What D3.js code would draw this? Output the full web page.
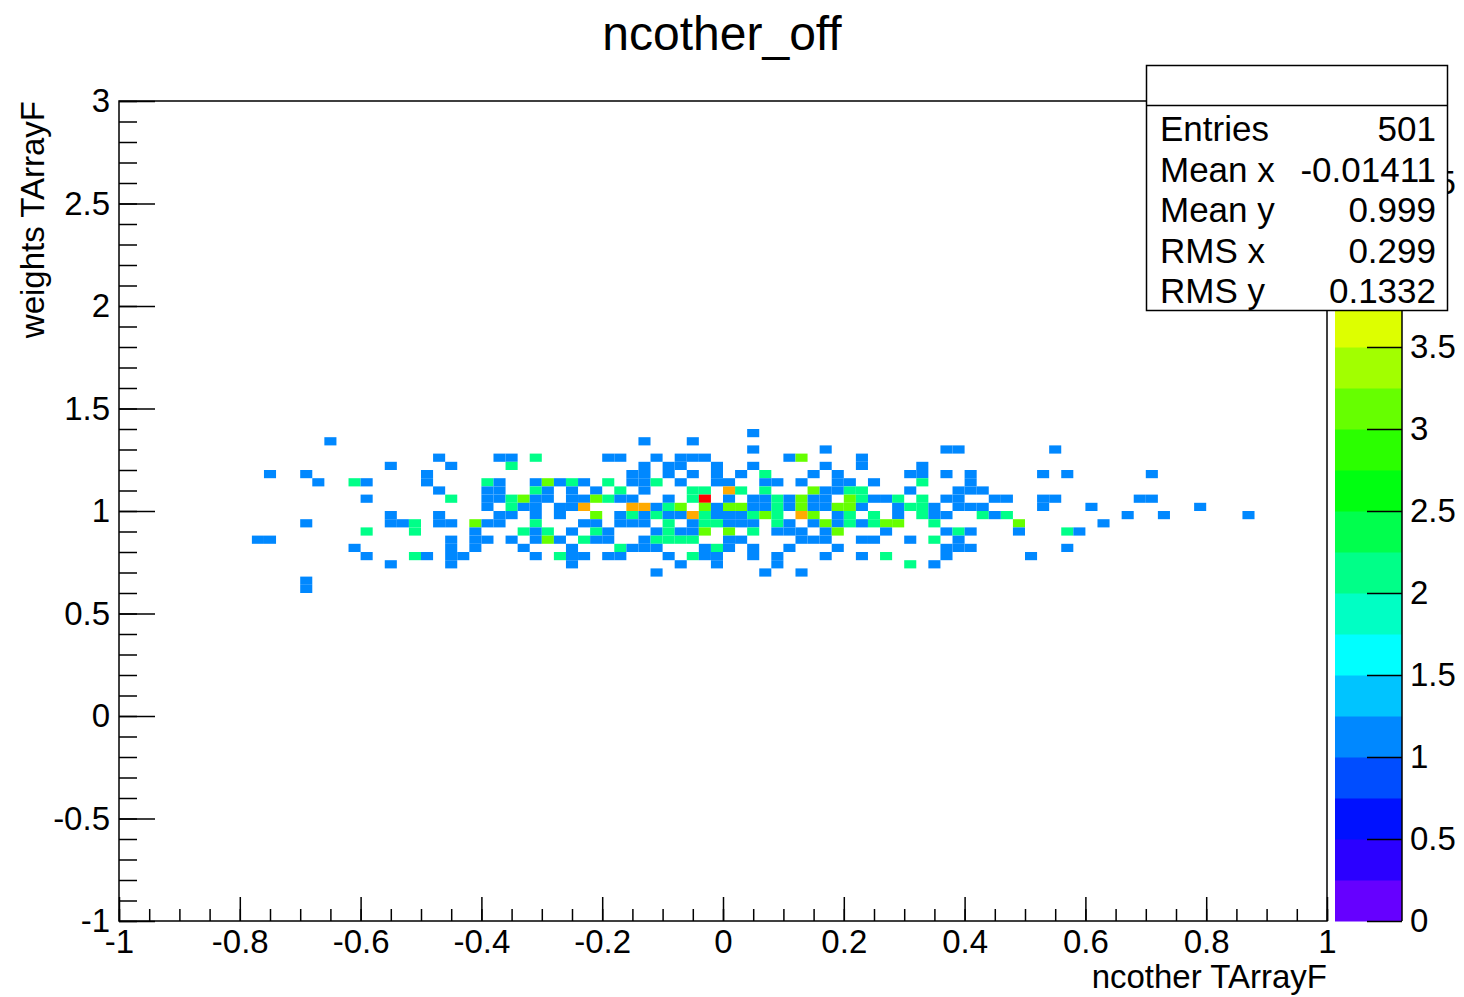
<!DOCTYPE html>
<html>
<head>
<meta charset="utf-8">
<script src="https://cdn.jsdelivr.net/npm/d3@7"></script>
<style>
  body { margin: 0; background: #fff; }
  text { font-family: "Liberation Sans", Arial, Helvetica, sans-serif; }
</style>
</head>
<body>
<div id="chart"></div>
<script>
// y bin centres of every filled row, and for each row the x bin centres + counts
const rowY = [1.38, 1.34, 1.30, 1.26, 1.22, 1.18, 1.14, 1.10, 1.06, 1.02,
              0.98, 0.94, 0.90, 0.86, 0.82, 0.78, 0.74, 0.70, 0.66, 0.62];
const rowX = [
  [0.05],
  [-0.65, -0.13, -0.05],
  [0.05, 0.17, 0.37, 0.39, 0.55],
  [-0.47, -0.37, -0.35, -0.31, -0.19, -0.17, -0.11, -0.07, -0.05, -0.03, 0.11, 0.13, 0.23],
  [-0.55, -0.45, -0.35, -0.13, -0.09, -0.07, -0.01, 0.05, 0.17, 0.23, 0.33],
  [-0.75, -0.69, -0.49, -0.15, -0.13, -0.09, -0.05, -0.01, 0.03, 0.07, 0.15, 0.19, 0.31, 0.33, 0.37, 0.41, 0.53, 0.57, 0.71],
  [-0.67, -0.61, -0.59, -0.49, -0.39, -0.37, -0.31, -0.29, -0.27, -0.25, -0.23, -0.19, -0.15, -0.13, -0.11, -0.07, -0.01, 0.01, 0.07, 0.09, 0.13, 0.19, 0.21, 0.25, 0.33, 0.41],
  [-0.47, -0.39, -0.37, -0.31, -0.29, -0.25, -0.21, -0.17, -0.13, -0.05, -0.03, 0.01, 0.03, 0.07, 0.15, 0.17, 0.19, 0.21, 0.23, 0.31, 0.39, 0.41, 0.43],
  [-0.59, -0.45, -0.39, -0.37, -0.35, -0.33, -0.31, -0.29, -0.25, -0.23, -0.21, -0.19, -0.17, -0.15, -0.09, -0.05, -0.03, 0.01, 0.05, 0.07, 0.09, 0.11, 0.13, 0.15, 0.17, 0.21, 0.23, 0.25, 0.27, 0.29, 0.33, 0.37, 0.39, 0.45, 0.47, 0.53, 0.55, 0.69, 0.71],
  [-0.39, -0.35, -0.33, -0.31, -0.27, -0.25, -0.23, -0.15, -0.13, -0.11, -0.09, -0.07, -0.03, -0.01, 0.01, 0.03, 0.05, 0.07, 0.09, 0.11, 0.13, 0.15, 0.17, 0.19, 0.21, 0.23, 0.29, 0.31, 0.33, 0.35, 0.39, 0.41, 0.43, 0.53, 0.61, 0.79],
  [-0.55, -0.47, -0.37, -0.35, -0.31, -0.27, -0.21, -0.17, -0.15, -0.13, -0.11, -0.09, -0.07, -0.05, -0.03, -0.01, 0.01, 0.03, 0.05, 0.07, 0.09, 0.13, 0.15, 0.19, 0.21, 0.25, 0.29, 0.33, 0.35, 0.37, 0.43, 0.45, 0.47, 0.67, 0.73, 0.87],
  [-0.69, -0.55, -0.53, -0.51, -0.47, -0.45, -0.41, -0.39, -0.37, -0.31, -0.23, -0.21, -0.17, -0.15, -0.13, -0.09, -0.05, -0.03, -0.01, 0.01, 0.03, 0.05, 0.09, 0.11, 0.15, 0.17, 0.19, 0.21, 0.23, 0.25, 0.27, 0.29, 0.35, 0.49, 0.63],
  [-0.59, -0.51, -0.41, -0.33, -0.31, -0.29, -0.25, -0.21, -0.19, -0.11, -0.09, -0.07, -0.05, -0.03, 0.01, 0.05, 0.09, 0.11, 0.13, 0.17, 0.19, 0.27, 0.37, 0.39, 0.41, 0.49, 0.57, 0.59],
  [-0.77, -0.75, -0.45, -0.41, -0.39, -0.35, -0.31, -0.29, -0.27, -0.23, -0.21, -0.19, -0.13, -0.11, -0.09, -0.07, -0.05, 0.01, 0.03, 0.13, 0.15, 0.17, 0.23, 0.25, 0.31, 0.35, 0.39],
  [-0.61, -0.45, -0.41, -0.33, -0.25, -0.17, -0.15, -0.13, -0.11, -0.03, -0.01, 0.01, 0.05, 0.11, 0.19, 0.37, 0.39, 0.41, 0.57],
  [-0.59, -0.51, -0.49, -0.45, -0.43, -0.31, -0.27, -0.25, -0.23, -0.19, -0.17, -0.09, -0.05, -0.03, -0.01, 0.05, 0.09, 0.17, 0.23, 0.27, 0.37, 0.51],
  [-0.55, -0.45, -0.25, -0.07, -0.01, 0.09, 0.31, 0.35],
  [-0.11, 0.07, 0.13],
  [-0.69],
  [-0.69]
];
const rowN = [
  [1],
  [1, 1, 1],
  [1, 1, 1, 1, 1],
  [1, 1, 1, 2, 1, 1, 1, 1, 1, 1, 1, 3, 1],
  [1, 1, 2, 1, 1, 1, 1, 1, 1, 1, 1],
  [1, 1, 1, 1, 1, 1, 1, 1, 1, 2, 1, 1, 1, 1, 1, 1, 1, 1, 1],
  [1, 2, 1, 1, 2, 1, 1, 3, 1, 2, 1, 2, 1, 1, 2, 1, 1, 1, 1, 1, 1, 1, 1, 1, 2, 1],
  [1, 1, 1, 2, 1, 1, 1, 2, 1, 2, 2, 4, 2, 2, 3, 1, 1, 2, 2, 1, 1, 1, 1],
  [1, 2, 1, 1, 2, 3, 1, 1, 1, 1, 3, 2, 1, 1, 1, 2, 5, 1, 1, 1, 2, 1, 3, 1, 1, 3, 2, 1, 1, 2, 2, 1, 1, 1, 1, 1, 1, 1, 1],
  [1, 2, 1, 1, 1, 1, 4, 4, 4, 1, 2, 3, 3, 1, 3, 3, 1, 1, 2, 1, 3, 1, 1, 3, 3, 1, 1, 2, 2, 1, 1, 1, 1, 1, 1, 1],
  [1, 1, 1, 1, 1, 1, 3, 1, 2, 1, 2, 1, 1, 4, 2, 1, 1, 1, 2, 3, 2, 4, 3, 1, 2, 2, 1, 2, 1, 1, 2, 1, 2, 1, 1, 1],
  [1, 1, 1, 2, 1, 1, 3, 1, 1, 2, 1, 1, 1, 1, 1, 2, 1, 2, 2, 1, 1, 1, 2, 1, 1, 3, 1, 2, 1, 2, 3, 3, 2, 3, 1],
  [2, 2, 1, 2, 1, 2, 1, 2, 1, 1, 2, 1, 1, 3, 3, 2, 1, 1, 1, 1, 3, 1, 1, 2, 1, 1, 2, 1],
  [1, 1, 1, 1, 1, 1, 1, 3, 1, 2, 1, 1, 1, 2, 2, 2, 2, 1, 1, 1, 1, 1, 1, 1, 1, 2, 1],
  [1, 1, 1, 1, 1, 2, 1, 1, 1, 1, 2, 1, 1, 1, 1, 1, 1, 1, 1],
  [1, 2, 1, 1, 1, 1, 2, 1, 1, 1, 1, 1, 2, 1, 1, 1, 1, 1, 1, 2, 1, 1],
  [1, 1, 1, 1, 1, 1, 2, 1],
  [1, 1, 1],
  [1],
  [1]
];

const xTicks = [-1, -0.8, -0.6, -0.4, -0.2, 0, 0.2, 0.4, 0.6, 0.8, 1];
const yTicks = [-1, -0.5, 0, 0.5, 1, 1.5, 2, 2.5, 3];
const zTicks = [0, 0.5, 1, 1.5, 2, 2.5, 3, 3.5, 4, 4.5, 5];
const statLabels = ["Entries", "Mean x", "Mean y", "RMS x", "RMS y"];
const statValues = ["501", "-0.01411", "0.999", "0.299", "0.1332"];

const binW = 0.02, binH = 0.04;
const zMax = 5, nContours = 20;

const W = 1464, H = 997;
const svg = d3.select("#chart").append("svg")
  .attr("width", W).attr("height", H)
  .style("background", "#fff");

const x = d3.scaleLinear().domain([-1, 1]).range([119, 1327]);
const y = d3.scaleLinear().domain([-1, 3]).range([921, 101]);
const z = d3.scaleLinear().domain([0, zMax]).range([921, 101]);

// ROOT style rainbow palette, 20 contour levels
const levelColor = i => d3.hsl(Math.max(0, 264 - 14 * i), 1, 0.5).formatHex();
const colorOf = v => levelColor(Math.min(nContours - 1, Math.floor(v / (zMax / nContours))));

// cells
const cells = [];
rowY.forEach((yc, r) => rowX[r].forEach((xc, k) => cells.push({ x: xc, y: yc, n: rowN[r][k] })));

svg.append("g").selectAll("rect")
  .data(cells)
  .enter()
  .append("rect")
  .attr("x", d => x(d.x - binW / 2))
  .attr("y", d => y(d.y + binH / 2))
  .attr("width", d => x(d.x + binW / 2) - x(d.x - binW / 2))
  .attr("height", d => y(d.y - binH / 2) - y(d.y + binH / 2))
  .attr("fill", d => colorOf(d.n));

// axes, ticks point inward like ROOT
const fmt = d => String(d);
const styleAxis = g => {
  g.select(".domain").remove();
  g.selectAll("line").attr("stroke", "#000").attr("stroke-width", 1.5);
  g.selectAll("text").attr("font-size", 33).attr("fill", "#000")
    .attr("font-family", "Liberation Sans, Arial, sans-serif");
};

svg.append("g")
  .attr("transform", "translate(0,921)")
  .call(d3.axisBottom(x).tickValues(d3.range(-1, 1.0001, 0.05)).tickSizeInner(-12).tickSizeOuter(0).tickFormat(""))
  .call(styleAxis);
svg.append("g")
  .attr("transform", "translate(0,921)")
  .call(d3.axisBottom(x).tickValues(xTicks).tickSizeInner(-24).tickSizeOuter(0).tickPadding(9).tickFormat(fmt))
  .call(styleAxis);

svg.append("g")
  .attr("transform", "translate(119,0)")
  .call(d3.axisLeft(y).tickValues(d3.range(-1, 3.0001, 0.1)).tickSizeInner(-18).tickSizeOuter(0).tickFormat(""))
  .call(styleAxis);
svg.append("g")
  .attr("transform", "translate(119,0)")
  .call(d3.axisLeft(y).tickValues(yTicks).tickSizeInner(-36).tickSizeOuter(0).tickPadding(9).tickFormat(fmt))
  .call(styleAxis);

// frame
svg.append("rect")
  .attr("x", 119).attr("y", 101).attr("width", 1327 - 119).attr("height", 921 - 101)
  .attr("fill", "none").attr("stroke", "#000").attr("stroke-width", 1.5);

// palette
svg.append("g").selectAll("rect")
  .data(d3.range(nContours))
  .enter()
  .append("rect")
  .attr("x", 1335)
  .attr("y", i => z((i + 1) * zMax / nContours))
  .attr("width", 1402 - 1335)
  .attr("height", i => z(i * zMax / nContours) - z((i + 1) * zMax / nContours) + 0.5)
  .attr("fill", i => levelColor(i));

svg.append("g")
  .attr("transform", "translate(1402,0)")
  .call(d3.axisRight(z).tickValues(zTicks).tickSizeInner(-35).tickSizeOuter(0).tickPadding(8).tickFormat(fmt))
  .call(styleAxis);
svg.append("line")
  .attr("x1", 1402).attr("x2", 1402).attr("y1", 101).attr("y2", 921)
  .attr("stroke", "#000").attr("stroke-width", 1.5);

// titles
svg.append("text")
  .attr("x", 722).attr("y", 50)
  .attr("text-anchor", "middle")
  .attr("font-size", 48)
  .text("ncother_off");

svg.append("text")
  .attr("x", 1327).attr("y", 988)
  .attr("text-anchor", "end")
  .attr("font-size", 33)
  .text("ncother TArrayF");

svg.append("text")
  .attr("transform", "translate(44,101) rotate(-90)")
  .attr("text-anchor", "end")
  .attr("font-size", 33)
  .text("weights TArrayF");

// stats box
const stats = svg.append("g");
stats.append("rect")
  .attr("x", 1146.5).attr("y", 65.5).attr("width", 301).attr("height", 245)
  .attr("fill", "#fff").attr("stroke", "#000").attr("stroke-width", 1.5);
stats.append("line")
  .attr("x1", 1146.5).attr("x2", 1447.5).attr("y1", 105.5).attr("y2", 105.5)
  .attr("stroke", "#000").attr("stroke-width", 1.5);
statLabels.forEach((lab, i) => {
  stats.append("text")
    .attr("x", 1160).attr("y", 141 + i * 40.5)
    .attr("font-size", 35)
    .text(lab);
  stats.append("text")
    .attr("x", 1436).attr("y", 141 + i * 40.5)
    .attr("text-anchor", "end")
    .attr("font-size", 35)
    .text(statValues[i]);
});
</script>
</body>
</html>
